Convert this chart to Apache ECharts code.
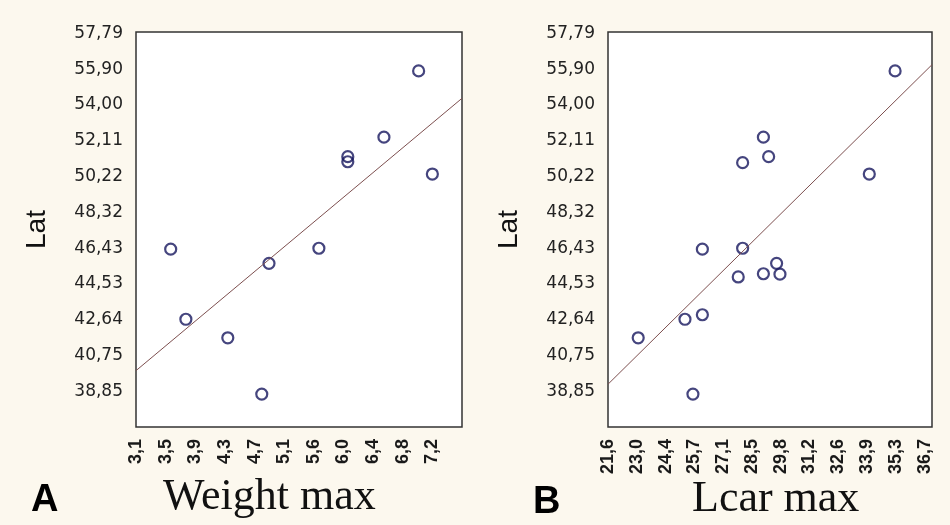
<!DOCTYPE html>
<html>
<head>
<meta charset="utf-8">
<script src="https://cdn.jsdelivr.net/npm/echarts@6/dist/echarts.min.js"></script>
<style>
html,body{margin:0;padding:0;background:#fcf8ee;}
#chart{width:950px;height:525px;}
</style>
</head>
<body>
<div id="chart"></div>
<script>
// ---- Data ----
var latTicks = ['38,85','40,75','42,64','44,53','46,43','48,32','50,22','52,11','54,00','55,90','57,79'];
var weightTicks = ['3,1','3,5','3,9','4,3','4,7','5,1','5,6','6,0','6,4','6,8','7,2'];
var lcarTicks = ['21,6','23,0','24,4','25,7','27,1','28,5','29,8','31,2','32,6','33,9','35,3','36,7'];

var weightPoints = [
  [3.58, 46.37], [3.79, 42.66], [4.37, 41.68], [4.84, 38.70], [4.94, 45.62],
  [5.63, 46.42], [6.03, 51.27], [6.03, 51.00], [6.53, 52.30], [7.01, 55.81], [7.20, 50.35]
];
var weightFit = [[3.1, 39.94], [7.61, 54.36]];

var lcarPoints = [
  [35.29, 55.81], [29.01, 52.30], [29.26, 51.27], [28.02, 50.95], [34.06, 50.35],
  [26.10, 46.37], [28.02, 46.42], [29.64, 45.62], [27.81, 44.90], [29.01, 45.07],
  [29.80, 45.05], [26.10, 42.90], [25.27, 42.66], [23.04, 41.68], [25.65, 38.70]
];
var lcarFit = [[21.6, 39.22], [37.05, 56.14]];

// ---- Axis settings ----
var latMin = 36.956, latMax = 57.87, latStep = 1.894;
var wMin = 3.1, wMax = 7.61, wStep = 0.41;
var lMin = 21.6, lMax = 37.05, lStep = 1.3727;

function tickFormatter(labels, min, step, offset) {
  return function (v) {
    var k = Math.round((v - min) / step);
    if (Math.abs(v - (min + k * step)) > 1e-6) return '';
    var i = k - offset;
    return (i >= 0 && i < labels.length) ? labels[i] : '';
  };
}

var yLabelStyle = {fontFamily: 'DejaVu Sans', fontSize: 17, color: '#222', margin: 13};
var xLabelStyle = {fontFamily: 'Liberation Sans', fontSize: 18, fontWeight: 'bold', color: '#1a1a1a', rotate: 90, margin: 12};

function yAxis(idx) {
  return {
    type: 'value', gridIndex: idx, min: latMin, max: latMax, interval: latStep,
    name: 'Lat', nameLocation: 'middle', nameGap: 85,
    nameTextStyle: {fontFamily: 'Liberation Sans', fontSize: 28, color: '#111'},
    axisLine: {show: false}, axisTick: {show: false}, splitLine: {show: false},
    axisLabel: Object.assign({formatter: tickFormatter(latTicks, latMin, latStep, 1)}, yLabelStyle)
  };
}
function xAxis(idx, min, max, step, labels) {
  return {
    type: 'value', gridIndex: idx, min: min, max: max, interval: step,
    axisLine: {show: false}, axisTick: {show: false}, splitLine: {show: false},
    axisLabel: Object.assign({formatter: tickFormatter(labels, min, step, 0)}, xLabelStyle)
  };
}

var markerStyle = {color: 'rgba(0,0,0,0)', borderColor: '#16165e', borderWidth: 2.2};
var fitStyle = {color: '#7d4f4f', width: 1};

var chart = echarts.init(document.getElementById('chart'), null, {renderer: 'canvas'});
chart.setOption({
  backgroundColor: '#fcf8ee',
  animation: false,
  title: [
    {text: 'A', left: 31, top: 482, padding: 0, textStyle: {fontFamily: 'Liberation Sans', fontSize: 38, fontWeight: 'bold', color: '#000'}},
    {text: 'Weight max', left: 163, top: 475, padding: 0, textStyle: {fontFamily: 'Liberation Serif', fontSize: 44, fontWeight: 'normal', color: '#111'}},
    {text: 'B', left: 533, top: 484, padding: 0, textStyle: {fontFamily: 'Liberation Sans', fontSize: 38, fontWeight: 'bold', color: '#000'}},
    {text: 'Lcar max', left: 692, top: 477, padding: 0, textStyle: {fontFamily: 'Liberation Serif', fontSize: 44, fontWeight: 'normal', color: '#111'}}
  ],
  grid: [
    {left: 136, top: 32, width: 326, height: 395, show: true, backgroundColor: '#ffffff', borderColor: '#333', borderWidth: 1.5},
    {left: 608, top: 32, width: 324, height: 395, show: true, backgroundColor: '#ffffff', borderColor: '#333', borderWidth: 1.5}
  ],
  xAxis: [
    xAxis(0, wMin, wMax, wStep, weightTicks),
    xAxis(1, lMin, lMax, lStep, lcarTicks)
  ],
  yAxis: [yAxis(0), yAxis(1)],
  series: [
    {type: 'line', xAxisIndex: 0, yAxisIndex: 0, data: weightFit, symbol: 'none', lineStyle: fitStyle, silent: true},
    {type: 'scatter', xAxisIndex: 0, yAxisIndex: 0, data: weightPoints, symbol: 'circle', symbolSize: 11, itemStyle: markerStyle},
    {type: 'line', xAxisIndex: 1, yAxisIndex: 1, data: lcarFit, symbol: 'none', lineStyle: fitStyle, silent: true},
    {type: 'scatter', xAxisIndex: 1, yAxisIndex: 1, data: lcarPoints, symbol: 'circle', symbolSize: 11, itemStyle: markerStyle}
  ]
});
</script>
</body>
</html>
